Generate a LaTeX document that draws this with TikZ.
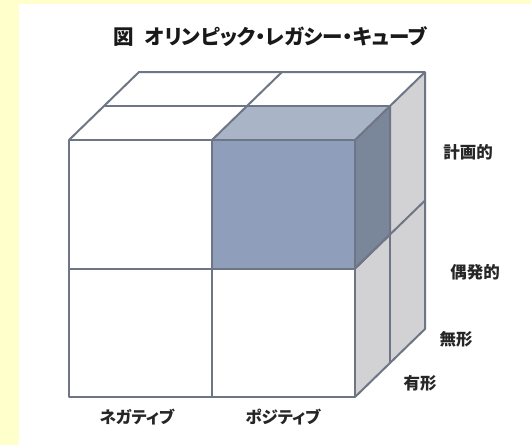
\documentclass[tikz,border=0pt]{standalone}
\usepackage{fontspec}
\newfontfamily\jpfont[RawFeature=+palt]{Noto Sans CJK JP}
\usetikzlibrary{calc}
\definecolor{bgyellow}{HTML}{FFFFCC}
\definecolor{edgegray}{HTML}{6E7686}
\definecolor{bluefront}{HTML}{8F9EBA}
\definecolor{bluetop}{HTML}{A9B4C7}
\definecolor{blueside}{HTML}{7A8699}
\definecolor{sidegray}{HTML}{D2D2D4}
\tikzstyle{cubeedge}=[draw=edgegray,line width=2pt,line join=round]
\tikzstyle{axislabel}=[font=\jpfont\bfseries\fontsize{16.5}{16.5}\selectfont,text=black!85,inner sep=0pt]
\tikzstyle{titletext}=[font=\jpfont\bfseries\fontsize{20.5}{20.5}\selectfont,text=black!90,inner sep=0pt]

\begin{document}
\begin{tikzpicture}[x=1pt,y=-1pt]

    % background and panel
    \fill[bgyellow] (0,0) rectangle (531,445);
    \fill[white] (19,4) rectangle (531,445);
    \useasboundingbox (0,0) rectangle (531,445);

    % front corners, then the same shifted back by one and two layers
    \foreach \pos/ \name in {{(69,140)/ftl},{(212,140)/ftm},{(355,140)/ftr},{(69,268.5)/fml},{(212,268.5)/fmm},{(355,268.5)/fmr},{(69,397)/fbl},{(212,397)/fbm},{(355,397)/fbr}}
        \path \pos coordinate (\name);
    \foreach \name in {ftl,ftm,ftr,fmr,fbr} {
        \coordinate (m\name) at ($(\name)+(35,-34)$);
        \coordinate (b\name) at ($(\name)+(70,-68)$);
    }

    % faces
    \fill[white] (ftl) -- (ftr) -- (bftr) -- (bftl) -- cycle;
    \fill[sidegray] (ftr) -- (bftr) -- (bfbr) -- (fbr) -- cycle;
    \fill[white] (ftl) rectangle (fbr);
    \fill[bluefront] (ftm) rectangle (fmr);
    \fill[bluetop] (ftm) -- (ftr) -- (mftr) -- (mftm) -- cycle;
    \fill[blueside] (ftr) -- (mftr) -- (mfmr) -- (fmr) -- cycle;

    % edges
    \draw[cubeedge] (ftl) rectangle (fbr);
    \draw[cubeedge] (ftm) -- (fbm);
    \draw[cubeedge] (fml) -- (fmr);
    \draw[cubeedge] (ftl) -- (bftl) -- (bftr) -- (bfbr) -- (fbr);
    \draw[cubeedge] (ftm) -- (bftm);
    \draw[cubeedge] (ftr) -- (bftr);
    \draw[cubeedge] (mftl) -- (mftr) -- (mfbr);
    \draw[cubeedge] (fmr) -- (bfmr);
    \draw[cubeedge] (mftr) -- (mfmr) -- (fmr);

    % texts
    \node[titletext] (title) at (270,37) {図\hspace{0.55em}オリンピック・レガシー・キューブ};
    \node[axislabel] (plan) at (468,152) {計画的};
    \node[axislabel] (chance) at (475,272) {偶発的};
    \node[axislabel] (intang) at (456,339) {無形};
    \node[axislabel] (tang) at (420,383) {有形};
    \node[axislabel] (neg) at (137,417) {ネガティブ};
    \node[axislabel] (pos) at (283,417) {ポジティブ};
\end{tikzpicture}
\end{document}
